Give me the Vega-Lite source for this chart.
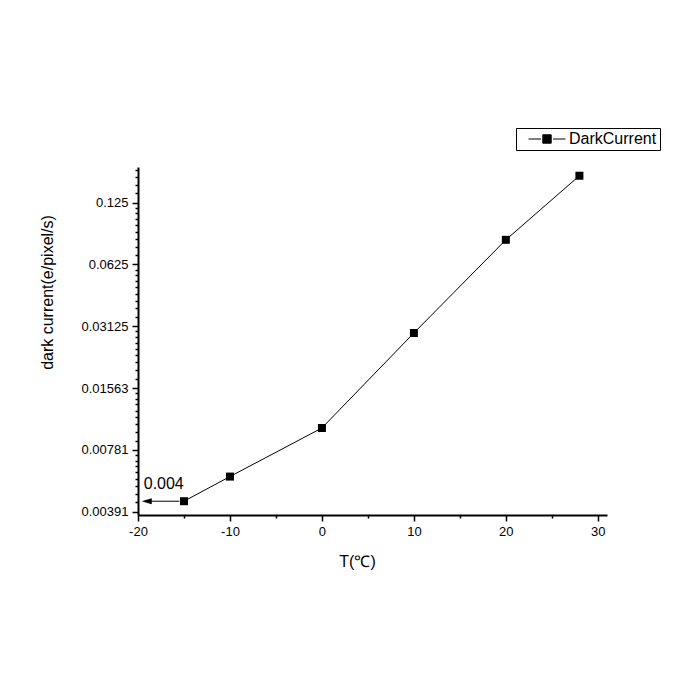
{
  "$schema": "https://vega.github.io/schema/vega-lite/v6.json",
  "autosize": "none",
  "padding": {"left": 138, "top": 167, "right": 93, "bottom": 185},
  "width": 469,
  "height": 348,
  "background": "white",
  "config": {
    "view": {"stroke": null},
    "font": "Liberation Sans",
    "axis": {
      "grid": false,
      "domainColor": "black",
      "domainWidth": 2,
      "tickColor": "black",
      "tickWidth": 1.5,
      "labelColor": "black",
      "labelFont": "Liberation Sans",
      "labelFontSize": 13,
      "titleFont": "Liberation Sans",
      "titleFontSize": 16,
      "titleFontWeight": "normal",
      "titleColor": "black",
      "labelOverlap": false,
      "labelFlush": false
    },
    "legend": {
      "labelFont": "Liberation Sans",
      "labelFontSize": 16,
      "labelColor": "black"
    }
  },
  "datasets": {
    "main": [
      {"T": -15, "dc": 0.0044, "series": "DarkCurrent"},
      {"T": -10, "dc": 0.0058, "series": "DarkCurrent"},
      {"T": 0, "dc": 0.01, "series": "DarkCurrent"},
      {"T": 10, "dc": 0.029, "series": "DarkCurrent"},
      {"T": 20, "dc": 0.0824, "series": "DarkCurrent"},
      {"T": 28, "dc": 0.169, "series": "DarkCurrent"}
    ],
    "arrow": [
      {"x1": -15.5, "x2": -19.2, "y": 0.0044, "head": -19.05, "label": "0.004", "lx": -17.2, "ly": 0.00505}
    ]
  },
  "layer": [
    {
      "data": {"name": "main"},
      "mark": {"type": "line", "color": "black", "strokeWidth": 1},
      "encoding": {
        "x": {
          "field": "T", "type": "quantitative",
          "scale": {"domain": [-20, 31], "nice": false, "zero": false},
          "axis": {
            "title": "T(℃)",
            "values": [-20, -15, -10, -5, 0, 5, 10, 15, 20, 25, 30],
            "labelExpr": "datum.value % 10 == 0 ? '' + datum.value : ''",
            "tickSize": {"condition": {"test": "datum.value % 10 == 0", "value": 6}, "value": 3},
            "labelPadding": 4,
            "titleX": 219,
            "titleY": 46,
            "titleBaseline": "middle",
            "titleAlign": "center"
          }
        },
        "y": {
          "field": "dc", "type": "quantitative",
          "scale": {"type": "log", "base": 2, "domain": [0.00377, 0.1864], "nice": false},
          "axis": {
            "title": "dark current(e/pixel/s)",
            "values": [0.00390625, 0.0043403, 0.0047743, 0.0052083, 0.0056424, 0.0060764, 0.0065104, 0.0069444, 0.0073785,
                       0.0078125, 0.0086806, 0.0095486, 0.0104167, 0.0112847, 0.0121528, 0.0130208, 0.0138889, 0.0147569,
                       0.015625, 0.0173611, 0.0190972, 0.0208333, 0.0225694, 0.0243056, 0.0260417, 0.0277778, 0.0295139,
                       0.03125, 0.0347222, 0.0381944, 0.0416667, 0.0451389, 0.0486111, 0.0520833, 0.0555556, 0.0590278,
                       0.0625, 0.0694444, 0.0763889, 0.0833333, 0.0902778, 0.0972222, 0.1041667, 0.1111111, 0.1180556,
                       0.125, 0.1388889, 0.1527778, 0.1666667, 0.1805556],
            "labelExpr": "abs(log(datum.value)/log(2) - round(log(datum.value)/log(2))) < 0.001 ? (datum.value < 0.005 ? '0.00391' : datum.value < 0.01 ? '0.00781' : datum.value < 0.02 ? '0.01563' : datum.value < 0.04 ? '0.03125' : datum.value < 0.08 ? '0.0625' : '0.125') : ''",
            "tickSize": {"condition": {"test": "abs(log(datum.value)/log(2) - round(log(datum.value)/log(2))) < 0.001", "value": 6}, "value": 3},
            "labelPadding": 4,
            "titleX": -91,
            "titleY": 125,
            "titleBaseline": "middle",
            "titleAlign": "center",
            "titleAngle": -90
          }
        },
        "color": {
          "field": "series", "type": "nominal",
          "scale": {"range": ["black"]},
          "legend": {
            "title": null,
            "orient": "none",
            "legendX": 378,
            "legendY": -39,
            "strokeColor": "black",
            "fillColor": "white",
            "padding": 3,
            "symbolType": "M-2.64,0L-0.86,0M0.86,0L2.64,0M-0.6,-0.6L0.6,-0.6L0.6,0.6L-0.6,0.6Z",
            "symbolSize": 196,
            "symbolFillColor": "black",
            "symbolStrokeColor": "black",
            "symbolStrokeWidth": 1,
            "symbolOffset": 20,
            "labelOffset": 14
          }
        }
      }
    },
    {
      "data": {"name": "main"},
      "mark": {"type": "point", "shape": "square", "filled": true, "size": 64, "opacity": 1},
      "encoding": {
        "x": {"field": "T", "type": "quantitative"},
        "y": {"field": "dc", "type": "quantitative"},
        "color": {"field": "series", "type": "nominal"}
      }
    },
    {
      "data": {"name": "arrow"},
      "mark": {"type": "rule", "color": "black", "strokeWidth": 1},
      "encoding": {
        "x": {"field": "x1", "type": "quantitative"},
        "x2": {"field": "x2"},
        "y": {"field": "y", "type": "quantitative"}
      }
    },
    {
      "data": {"name": "arrow"},
      "mark": {"type": "point", "shape": "M-1,0L1,-0.6L1,0.6Z", "filled": true, "color": "black", "size": 100, "opacity": 1},
      "encoding": {
        "x": {"field": "head", "type": "quantitative"},
        "y": {"field": "y", "type": "quantitative"}
      }
    },
    {
      "data": {"name": "arrow"},
      "mark": {"type": "text", "fontSize": 16, "font": "Liberation Sans", "color": "black", "align": "center", "baseline": "alphabetic"},
      "encoding": {
        "x": {"field": "lx", "type": "quantitative"},
        "y": {"field": "ly", "type": "quantitative"},
        "text": {"field": "label"}
      }
    }
  ]
}
